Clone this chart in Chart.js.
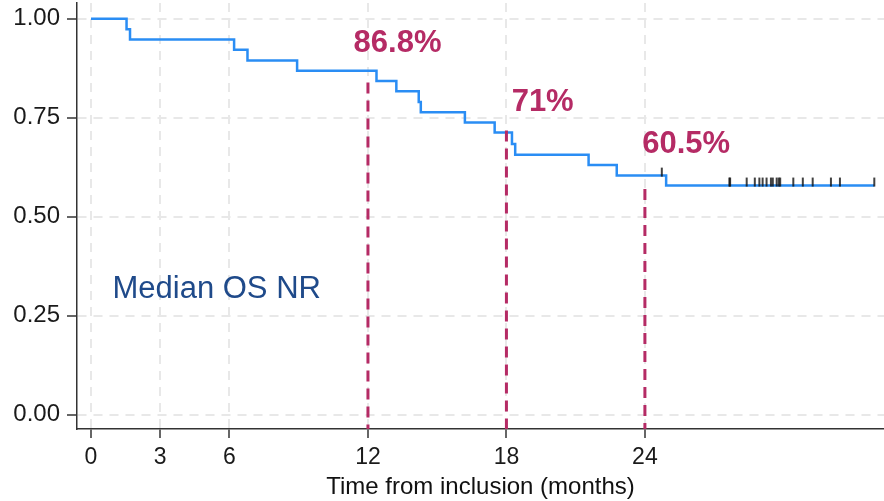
<!DOCTYPE html>
<html>
<head>
<meta charset="utf-8">
<script src="https://cdn.jsdelivr.net/npm/chart.js@4/dist/chart.umd.min.js"></script>
<style>
  html, body { margin: 0; padding: 0; background: #ffffff; }
  #wrap { width: 884px; height: 501px; }
</style>
</head>
<body>
<div id="wrap"><canvas id="c" width="884" height="501"></canvas></div>
<script>
// ---------------- data ----------------
const kmTimes    = [0, 1.54, 1.69, 6.2, 6.78, 8.93, 12.37, 13.23, 14.2, 14.29, 16.2, 17.49, 18.24, 18.38, 21.56, 22.78, 24.92, 33.94];
const kmSurvival = [1.0, 0.974, 0.948, 0.922, 0.895, 0.869, 0.843, 0.817, 0.79, 0.764, 0.738, 0.713, 0.684, 0.657, 0.631, 0.604, 0.579, 0.579];
const censorTimes = [24.73, 27.66, 27.69, 28.41, 28.76, 28.96, 29.1, 29.27, 29.46, 29.54, 29.71, 29.8, 29.86, 30.43, 30.84, 31.27, 32.06, 32.45, 33.94];
const landmarkMonths   = [12, 18, 24];
const landmarkLineTop  = [0.839, 0.718, 0.57];
const landmarkLabels   = ['86.8%', '71%', '60.5%'];
const xTickValues = [0, 3, 6, 12, 18, 24];
const yTickValues = [0, 0.25, 0.5, 0.75, 1.0];
const medianText = 'Median OS NR';
const xTitle = 'Time from inclusion (months)';

// ---------------- layout / style (not data) ----------------
const X_MIN = -0.607, X_MAX = 34.36;
const Y_MIN = -0.036, Y_MAX = 1.04;
const labelAnchorX = [13.28, 19.57, 25.79];
const labelAnchorY = [0.939, 0.788, 0.683];
const medianAnchor = { x: 0.93, y: 0.316 };
const MAGENTA = '#B52B65';
const BLUE = '#2A8DF4';
const FONT = '"Liberation Sans", Arial, sans-serif';

function survAt(t) {
  let s = kmSurvival[0];
  for (let i = 0; i < kmTimes.length; i++) { if (kmTimes[i] <= t) s = kmSurvival[i]; }
  return s;
}

// censor mark image: vertical tick sitting mostly above the curve
const censorImg = document.createElement('canvas');
censorImg.width = 4; censorImg.height = 20;
(function(){
  const g = censorImg.getContext('2d');
  g.strokeStyle = '#111';
  g.lineWidth = 1.6;
  g.beginPath(); g.moveTo(2, 2); g.lineTo(2, 11); g.stroke();
})();

const kmData = kmTimes.map((t, i) => ({ x: t, y: kmSurvival[i] }));
const censorData = censorTimes.map(t => ({ x: t, y: survAt(t) }));
const landmarkSets = landmarkMonths.map((m, i) => ({
  type: 'line',
  data: [{ x: m, y: landmarkLineTop[i] }, { x: m, y: Y_MIN }],
  borderColor: MAGENTA,
  borderWidth: 3,
  borderDash: [11, 7],
  pointRadius: 0,
  order: 0
}));

const annotPlugin = {
  id: 'annot',
  afterDatasetsDraw(chart) {
    const { ctx, scales: { x, y } } = chart;
    ctx.save();
    ctx.font = 'bold 31px ' + FONT;
    ctx.fillStyle = MAGENTA;
    ctx.textAlign = 'center';
    ctx.textBaseline = 'middle';
    landmarkLabels.forEach((txt, i) => {
      ctx.fillText(txt, x.getPixelForValue(labelAnchorX[i]), y.getPixelForValue(labelAnchorY[i]));
    });
    ctx.font = '31px ' + FONT;
    ctx.fillStyle = '#1F4A8A';
    ctx.textAlign = 'left';
    ctx.fillText(medianText, x.getPixelForValue(medianAnchor.x), y.getPixelForValue(medianAnchor.y));
    ctx.restore();
  }
};

new Chart(document.getElementById('c'), {
  type: 'line',
  data: {
    datasets: [
      {
        data: kmData,
        stepped: true,
        borderColor: BLUE,
        borderWidth: 2.5,
        pointRadius: 0,
        fill: false,
        order: 2
      },
      {
        type: 'scatter',
        data: censorData,
        showLine: false,
        pointStyle: censorImg,
        pointRadius: 5,
        order: 1
      },
      ...landmarkSets
    ]
  },
  options: {
    responsive: false,
    animation: false,
    devicePixelRatio: 1,
    layout: { autoPadding: false, padding: { top: 3, right: 0, left: 0, bottom: 0 } },
    plugins: { legend: { display: false }, tooltip: { enabled: false } },
    scales: {
      x: {
        type: 'linear',
        min: X_MIN, max: X_MAX,
        afterBuildTicks: s => { s.ticks = xTickValues.map(v => ({ value: v })); },
        afterFit: s => { s.height = 72; s.paddingLeft = 0; s.paddingRight = 0; },
        ticks: {
          callback: v => String(v),
          font: { family: FONT, size: 23 },
          color: '#1a1a1a',
          padding: 6,
          maxRotation: 0,
          autoSkip: false
        },
        grid: {
          color: '#e8e8e8', lineWidth: 2,
          tickColor: '#333', tickWidth: 1.5, tickLength: 9
        },
        border: { color: '#333', width: 1.5, dash: [9, 7] },
        title: {
          display: true, text: xTitle,
          font: { family: FONT, size: 24, lineHeight: 1.1 },
          color: '#111',
          padding: { top: 0, bottom: 0 }
        }
      },
      y: {
        type: 'linear',
        min: Y_MIN, max: Y_MAX,
        afterBuildTicks: s => { s.ticks = yTickValues.map(v => ({ value: v })); },
        afterFit: s => { s.width = 77; s.paddingTop = 0; s.paddingBottom = 0; },
        ticks: {
          callback: v => Number(v).toFixed(2),
          font: { family: FONT, size: 24 },
          color: '#1a1a1a',
          padding: 7
        },
        grid: {
          color: '#e8e8e8', lineWidth: 2,
          tickColor: '#333', tickWidth: 1.5, tickLength: 10
        },
        border: { color: '#333', width: 1.5, dash: [9, 7] }
      }
    }
  },
  plugins: [annotPlugin]
});
</script>
</body>
</html>
